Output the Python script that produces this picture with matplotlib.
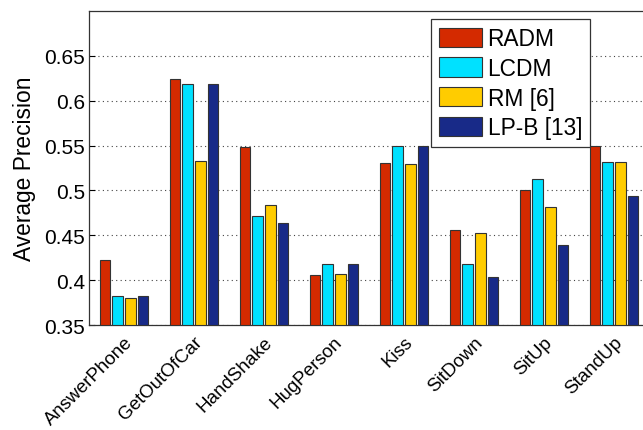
import matplotlib

matplotlib.use("Agg")
import matplotlib.pyplot as plt
import numpy as np

plt.rcParams["font.family"] = ["Liberation Sans", "DejaVu Sans"]

actions = ["AnswerPhone", "GetOutOfCar", "HandShake", "HugPerson",
           "Kiss", "SitDown", "SitUp", "StandUp"]
methods = ["RADM", "LCDM", "RM [6]", "LP-B [13]"]
radm = [0.423, 0.624, 0.548, 0.406, 0.531, 0.456, 0.501, 0.550]
lcdm = [0.382, 0.619, 0.471, 0.418, 0.550, 0.418, 0.513, 0.532]
rm = [0.380, 0.533, 0.484, 0.407, 0.529, 0.453, 0.481, 0.532]
lpb = [0.382, 0.619, 0.464, 0.418, 0.550, 0.404, 0.439, 0.494]
colors = ["#d42a00", "#00e1ff", "#ffcc00", "#182a88"]

fig = plt.figure(figsize=(6.43, 4.31), dpi=100)
# axes runs slightly past the right edge, as in the cropped original
ax = fig.add_axes([89 / 643, 1 - 326 / 431, 560 / 643, 314 / 431])

x = np.arange(1, len(actions) + 1)
pitch = 0.181
width = 0.148
series = [radm, lcdm, rm, lpb]
for k, (vals, col, name) in enumerate(zip(series, colors, methods)):
    ax.bar(x + (k - 1.5) * pitch, np.array(vals) - 0.35, width, bottom=0.35,
           color=col, edgecolor="#333333", linewidth=0.8, label=name, zorder=3)

ax.set_xlim(0.5, 8.5)
ax.set_ylim(0.35, 0.70)
ax.set_yticks([0.35, 0.4, 0.45, 0.5, 0.55, 0.6, 0.65])
ax.set_yticklabels(["0.35", "0.4", "0.45", "0.5", "0.55", "0.6", "0.65"], fontsize=15)
ax.yaxis.grid(True, linestyle=(0, (1, 3)), color="#444444", linewidth=0.8, zorder=0)
ax.tick_params(axis="y", direction="in", length=4, pad=3)
ax.tick_params(axis="x", length=0, pad=6)
ax.set_xticks(x)
ax.set_xticklabels(actions, rotation=45, ha="right", rotation_mode="anchor",
                   fontsize=13.5)
for s in ax.spines.values():
    s.set_color("#333333")
    s.set_linewidth(0.9)

ax.set_ylabel("Average Precision", fontsize=16.4, labelpad=6)

leg = ax.legend(loc="upper right", bbox_to_anchor=(0.8946, 0.9745),
                borderaxespad=0, fontsize=16.4, fancybox=False,
                edgecolor="#333333", framealpha=1, handlelength=1.9,
                handleheight=0.92, handletextpad=0.25, labelspacing=0.3,
                borderpad=0.35)
leg.get_frame().set_linewidth(0.9)

fig.savefig("out.png", dpi=100)
